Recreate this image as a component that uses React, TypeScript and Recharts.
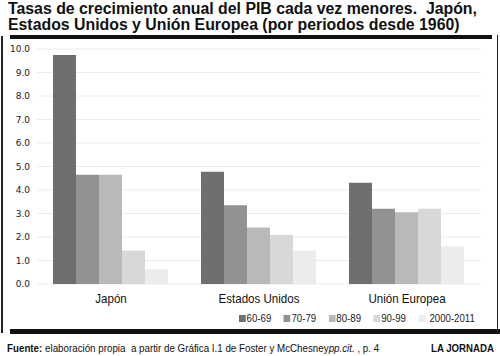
import React from "react";
import { BarChart, Bar, XAxis, YAxis, CartesianGrid } from "recharts";

const regions = ["Japón", "Estados Unidos", "Unión Europea"];
const periods = ["60-69", "70-79", "80-89", "90-99", "2000-2011"];
const periodColors = ["#6f6f6f", "#929292", "#b9b9b9", "#d8d8d8", "#ececec"];
const s6069 = [9.75, 4.78, 4.31];
const s7079 = [4.65, 3.35, 3.2];
const s8089 = [4.65, 2.4, 3.05];
const s9099 = [1.42, 2.08, 3.2];
const s2000 = [0.63, 1.42, 1.6];
const yTicks = [0, 1, 2, 3, 4, 5, 6, 7, 8, 9, 10];
const titleLines = [
  "Tasas de crecimiento anual del PIB cada vez menores.  Japón,",
  "Estados Unidos y Unión Europea (por periodos desde 1960)",
];
const sourceLabel = "Fuente:";
const sourceText = " elaboración propia  a partir de Gráfica I.1 de Foster y McChesney";
const sourceItalic = "pp.cit.";
const sourceEnd = " , p. 4";
const brand = "LA JORNADA";

const seriesValues = [s6069, s7079, s8089, s9099, s2000];

const data = regions.map((r, i) => {
  const row: Record<string, string | number> = { region: r };
  periods.forEach((p, j) => {
    row[p] = seriesValues[j][i];
  });
  return row;
});

const font = "'Liberation Sans', Arial, sans-serif";

const XTick = (props: any) => {
  const { x, y, payload } = props;
  return (
    <g transform={`translate(${x},${y})`}>
      <text
        x={0}
        y={0}
        dy="0.71em"
        textAnchor="middle"
        fontSize={13}
        fill="#111"
        fontFamily={font}
        transform="scale(0.89,1)"
      >
        {payload.value}
      </text>
    </g>
  );
};

export default function App() {
  return (
    <div
      style={{
        position: "absolute",
        left: 0,
        top: 0,
        width: 500,
        height: 356,
        background: "#fff",
        overflow: "hidden",
        fontFamily: font,
      }}
    >
      {titleLines.map((t, i) => (
        <div
          key={i}
          style={{
            position: "absolute",
            left: 8,
            top: 1 + i * 16,
            fontSize: 16,
            fontWeight: "bold",
            lineHeight: "16px",
            color: "#111",
            whiteSpace: "pre",
            transform: "scaleX(0.99)",
            transformOrigin: "left center",
          }}
        >
          {t}
        </div>
      ))}
      <div style={{ position: "absolute", left: 10, top: 35, width: 482, height: 3.5, background: "#111" }} />
      <div style={{ position: "absolute", left: 1, top: 36, width: 1.5, height: 297, background: "#222" }} />
      <div style={{ position: "absolute", left: 496.5, top: 35, width: 1.5, height: 298, background: "#222" }} />
      <div style={{ position: "absolute", left: 10, top: 329, width: 490, height: 5, background: "#111" }} />
      <div
        style={{
          position: "absolute",
          left: 7,
          top: 342,
          fontSize: 11.5,
          lineHeight: "12px",
          color: "#111",
          whiteSpace: "pre",
          transform: "scaleX(0.85)",
          transformOrigin: "left center",
        }}
      >
        <b>{sourceLabel}</b>
        {sourceText}
        <i>{sourceItalic}</i>
        {sourceEnd}
      </div>
      <div
        style={{
          position: "absolute",
          right: 6,
          top: 342,
          fontSize: 11.5,
          lineHeight: "12px",
          fontWeight: "bold",
          color: "#111",
          transform: "scaleX(0.84)",
          transformOrigin: "right center",
        }}
      >
        {brand}
      </div>
      <div style={{ position: "absolute", left: 0, top: 0 }}>
        <BarChart
          width={500}
          height={356}
          data={data}
          margin={{ top: 49, right: 19, bottom: 42, left: 7 }}
          barCategoryGap={16}
          barGap={0}
        >
          <CartesianGrid vertical={false} stroke="#ececec" strokeWidth={1} />
          <XAxis
            dataKey="region"
            axisLine={false}
            tickLine={false}
            tickSize={0}
            tickMargin={10}
            height={30}
            tick={<XTick />}
          />
          <YAxis
            domain={[0, 10]}
            ticks={yTicks}
            tickFormatter={(v: number) => v.toFixed(1)}
            axisLine={false}
            tickLine={false}
            tickSize={0}
            tickMargin={7}
            width={30}
            interval={0}
            tick={{ fontSize: 9, fill: "#222", fontFamily: "'DejaVu Sans', sans-serif" }}
          />
          {periods.map((p, i) => (
            <Bar key={p} dataKey={p} fill={periodColors[i]} isAnimationActive={false} />
          ))}
        </BarChart>
      </div>
      <div
        style={{
          position: "absolute",
          left: 239,
          top: 312,
          display: "flex",
          gap: 15,
          fontFamily: font,
          fontSize: 11.5,
          color: "#222",
          alignItems: "center",
          lineHeight: "12px",
          whiteSpace: "pre",
          transform: "scaleX(0.84)",
          transformOrigin: "left center",
        }}
      >
        {periods.map((p, i) => (
          <div key={p} style={{ display: "flex", alignItems: "center" }}>
            <span
              style={{
                display: "inline-block",
                width: 8,
                height: 7,
                background: periodColors[i],
                marginRight: i === 4 ? 5 : 1,
              }}
            />
            <span>{p}</span>
          </div>
        ))}
      </div>
    </div>
  );
}
